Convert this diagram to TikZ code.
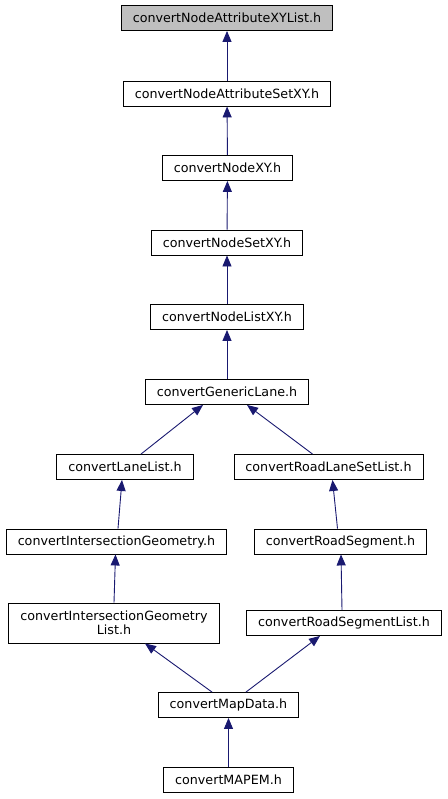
\documentclass[tikz,border=0pt]{standalone}
\usepackage{fontspec}
\setmainfont{DejaVu Sans}
\usetikzlibrary{arrows.meta}
\definecolor{edgeblue}{RGB}{25,25,112}
\definecolor{rootgray}{RGB}{191,191,191}

\begin{document}
\begin{tikzpicture}[x=1pt, y=-1pt,
    file/.style={draw=black, line width=0.9pt, fill=white, minimum height=25pt,
        inner xsep=11.5pt, inner ysep=2pt, align=center,
        font=\fontsize{12.7}{14.5}\selectfont},
    inc/.style={draw=edgeblue, line width=0.9pt,
        -{Triangle[length=11pt, width=9pt]}}]
    % Frame
    \useasboundingbox (0,0) rectangle (447,799);

    % Files
    \node[file, fill=rootgray] (xylist) at (227,18) {convertNodeAttributeXYList.h};
    \node[file] (attrset) at (227,93.5) {convertNodeAttributeSetXY.h};
    \node[file] (nodexy) at (227.5,168) {convertNodeXY.h};
    \node[file] (nodeset) at (227,242.5) {convertNodeSetXY.h};
    \node[file] (nodelist) at (227,317) {convertNodeListXY.h};
    \node[file] (generic) at (227,392) {convertGenericLane.h};
    \node[file] (lanelist) at (125,467) {convertLaneList.h};
    \node[file] (roadlane) at (328.5,467) {convertRoadLaneSetList.h};
    \node[file] (intgeo) at (116.5,541.5) {convertIntersectionGeometry.h};
    \node[file] (roadseg) at (340.5,541.5) {convertRoadSegment.h};
    \node[file, minimum height=40pt] (intgeolist) at (114,623)
        {convertIntersectionGeometry\\List.h};
    \node[file] (roadseglist) at (344,623) {convertRoadSegmentList.h};
    \node[file] (mapdata) at (228.5,705) {convertMapData.h};
    \node[file] (mapem) at (228.5,780) {convertMAPEM.h};

    % Includes (lower file -> included file)
    \draw[inc] (attrset) -- (xylist);
    \draw[inc] (nodexy) -- (attrset);
    \draw[inc] (nodeset) -- (nodexy);
    \draw[inc] (nodelist) -- (nodeset);
    \draw[inc] (generic) -- (nodelist);
    \draw[inc] ([xshift=16pt]lanelist.north) -- ([xshift=-24pt]generic.south);
    \draw[inc] ([xshift=-16pt]roadlane.north) -- ([xshift=20pt]generic.south);
    \draw[inc] ([xshift=1.5pt]intgeo.north) -- ([xshift=-3pt]lanelist.south);
    \draw[inc] ([xshift=-3pt]roadseg.north) -- ([xshift=4pt]roadlane.south);
    \draw[inc] (intgeolist.north) -- ([xshift=-1pt]intgeo.south);
    \draw[inc] ([xshift=-2pt]roadseglist.north) -- ([xshift=0.5pt]roadseg.south);
    \draw[inc] ([xshift=-16.5pt]mapdata.north) -- ([xshift=31pt]intgeolist.south);
    \draw[inc] ([xshift=17.5pt]mapdata.north) -- ([xshift=-24pt]roadseglist.south);
    \draw[inc] (mapem) -- (mapdata);

\end{tikzpicture}
\end{document}
